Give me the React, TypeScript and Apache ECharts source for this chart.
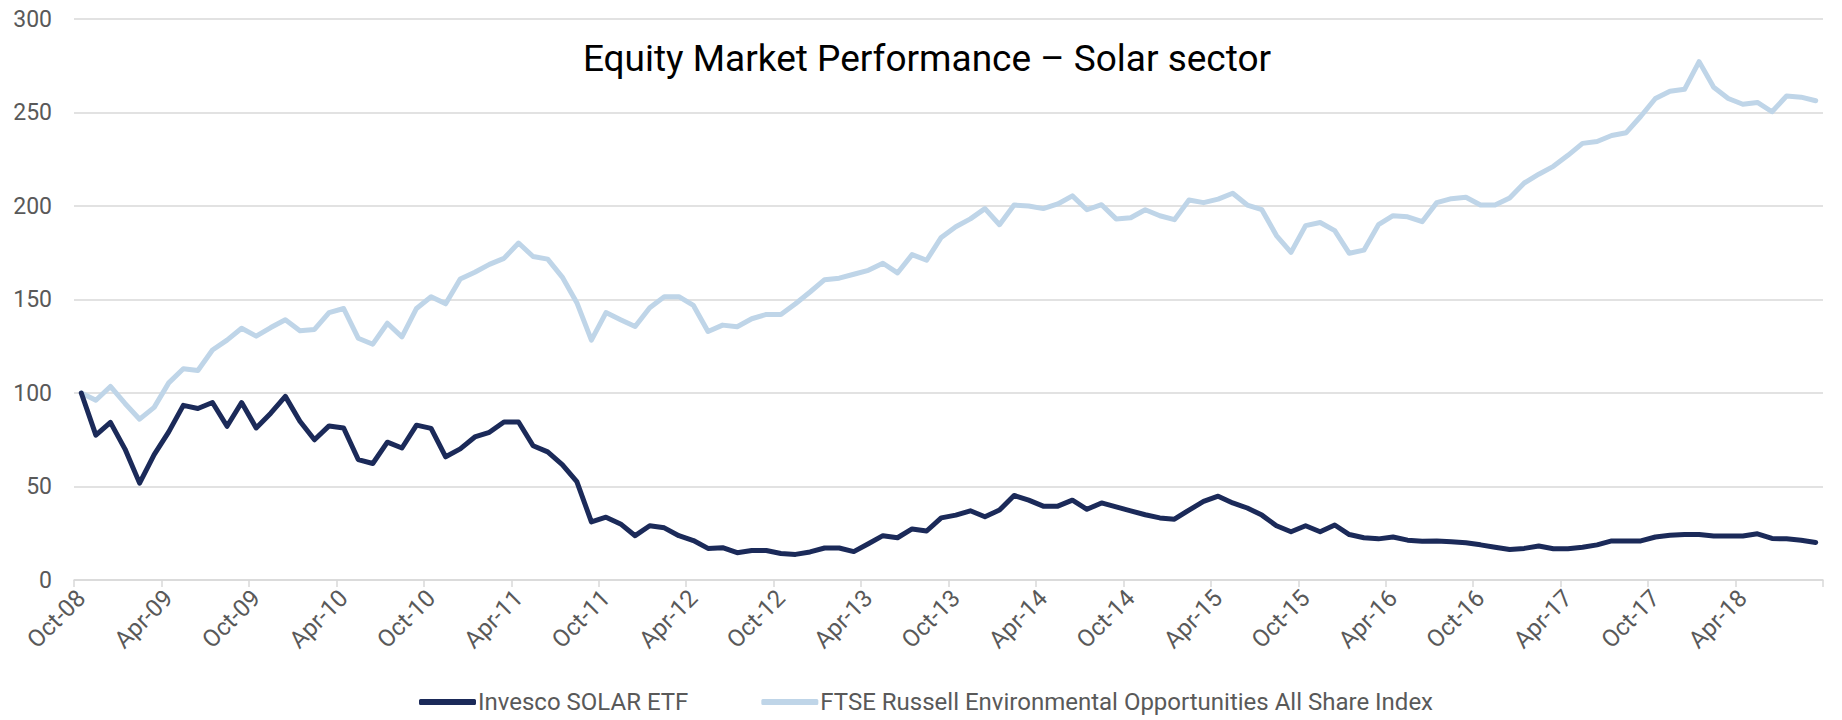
import React, { useEffect, useRef } from "react";
import * as echarts from "echarts";

const MONTHS = ["Jan", "Feb", "Mar", "Apr", "May", "Jun", "Jul", "Aug", "Sep", "Oct", "Nov", "Dec"];
const START_MONTH = 9; // Oct
const START_YEAR = 2008;
const N_MONTHS = 120;
const categories: string[] = [];
for (let i = 0; i < N_MONTHS; i++) {
  const m = (START_MONTH + i) % 12;
  const y = START_YEAR + Math.floor((START_MONTH + i) / 12);
  categories.push(`${MONTHS[m]}-${String(y % 100).padStart(2, "0")}`);
}

const TITLE = "Equity Market Performance – Solar sector";
const SERIES_NAMES = ["Invesco SOLAR ETF", "FTSE Russell Environmental Opportunities All Share Index"];

const invescoSolar = [
  100, 77.5, 84.3, 70, 51.8, 67, 79.2, 93.4, 91.7, 94.9, 82.2, 94.9, 81.3, 89.2, 98.2, 84.9, 75, 82.4, 81.3, 64.4,
  62.3, 73.7, 70.6, 82.8, 81.1, 65.9, 70.1, 76.5, 79, 84.5, 84.5, 71.8, 68.5, 61.7, 52.6, 31.1, 33.6, 30,
  23.7, 29, 27.9, 23.7, 21.1, 16.9, 17.3, 14.6, 15.8, 15.8, 14.2, 13.7, 15, 17.1, 17.1, 15.2, 19.4, 23.7, 22.6,
  27.3, 26.2, 33.2, 34.7, 37, 33.8, 37.4, 45.2, 42.7, 39.5, 39.5, 42.7, 37.8, 41.2, 39.1, 37, 34.9, 33.2, 32.5,
  37.4, 42, 44.8,
  41.2, 38.5, 34.7, 29, 25.8, 29, 25.8, 29.4, 24.3, 22.6, 22, 23, 21.3, 20.7, 20.9, 20.5, 19.9, 18.8, 17.5, 16.3,
  16.9, 18.2, 16.7, 16.7, 17.5, 18.8, 20.9, 20.9, 20.9, 23, 23.9, 24.3, 24.3, 23.5, 23.5, 23.5, 24.7, 22.2, 22,
  21.3, 20.1,
];

const ftseEO = [
  100, 96.1, 103.5, 94.4, 86, 92.3, 105.4, 113, 112, 123, 128.3, 134.6, 130.4, 135, 139.2, 133.3, 134, 143, 145.2,
  129.3, 126.1, 137.3, 130, 145.2, 151.5, 147.7, 161, 164.6, 168.8, 172, 180.2, 173, 171.6, 162, 148.3, 128.3, 143,
  139.2,
  135.6, 145.6, 151.5, 151.5, 146.8, 132.9, 136.3, 135.4, 139.7, 142, 142, 147.7, 154, 160.6, 161.4, 163.5, 165.6,
  169.4, 164.2, 174, 171, 183.2, 188.9, 193.1, 198.6, 190, 200.5, 200, 198.6, 201.1, 205.4, 198, 200.7, 193.1,
  193.7, 198, 194.8, 192.7, 203.2, 201.8, 203.7,
  206.8, 200.5, 198, 184.2, 175.2, 189.5, 191.2, 186.8, 174.7, 176.4, 190, 194.8, 194.2, 191.6, 201.8, 203.9,
  204.7, 200.5, 200.5, 204.3, 212.3, 217, 221.2, 227.1, 233.5, 234.5, 237.7, 239.2, 248, 257.5, 261.4, 262.4,
  277.2, 263.5, 257.5, 254.4, 255.4, 250.4, 258.8, 258.2, 256.3,
];

const Y_MIN = 0;
const Y_MAX = 300;
const Y_STEP = 50;

const FONT = "Roboto";
const GREY = "#595959";
const GRID = "#d9d9d9";
const DARK = "#1b2a59";
const LIGHT = "#bfd5e8";

export default function App() {
  const ref = useRef<HTMLDivElement>(null);
  useEffect(() => {
    if (!ref.current) return;
    const chart = echarts.init(ref.current, undefined, { renderer: "svg" });
    chart.setOption({
      animation: false,
      backgroundColor: "#ffffff",
      textStyle: { fontFamily: FONT },
      graphic: [
        {
          type: "text",
          x: 927,
          y: 58,
          z: 10,
          style: {
            text: TITLE,
            fontFamily: FONT,
            fontSize: 37,
            fill: "#000000",
            textAlign: "center",
            textVerticalAlign: "middle",
          },
        },
      ],
      grid: { left: 74, right: 19, top: 19, bottom: 140 },
      legend: {
        left: 419,
        top: 689,
        padding: 0,
        itemWidth: 57,
        itemHeight: 6,
        itemGap: 73,
        icon: "roundRect",
        textStyle: { fontFamily: FONT, fontSize: 24, lineHeight: 26, color: GREY, padding: [0, 0, 0, -3] },
        data: SERIES_NAMES,
      },
      xAxis: {
        type: "category",
        data: categories,
        boundaryGap: true,
        axisLine: { show: true, lineStyle: { color: GRID, width: 1.5 } },
        axisTick: { show: true, interval: 5, length: 7, lineStyle: { color: GRID, width: 1.5 } },
        axisLabel: {
          interval: 5,
          rotate: 45,
          margin: 14,
          fontFamily: FONT,
          fontSize: 24,
          color: GREY,
        },
        splitLine: { show: false },
      },
      yAxis: {
        type: "value",
        min: Y_MIN,
        max: Y_MAX,
        interval: Y_STEP,
        axisLine: { show: false },
        axisTick: { show: false },
        axisLabel: { margin: 22, fontFamily: FONT, fontSize: 23, color: GREY },
        splitLine: { lineStyle: { color: GRID, width: 1.5 } },
      },
      series: [
        {
          name: SERIES_NAMES[0],
          type: "line",
          data: invescoSolar,
          symbol: "none",
          z: 3,
          color: DARK,
          lineStyle: { color: DARK, width: 5, cap: "round", join: "round" },
        },
        {
          name: SERIES_NAMES[1],
          type: "line",
          data: ftseEO,
          symbol: "none",
          z: 2,
          color: LIGHT,
          lineStyle: { color: LIGHT, width: 5, cap: "round", join: "round" },
        },
      ],
    });
    return () => chart.dispose();
  }, []);
  return (
    <div
      ref={ref}
      style={{ position: "fixed", left: 0, top: 0, width: "1842px", height: "720px", background: "#fff" }}
    />
  );
}
